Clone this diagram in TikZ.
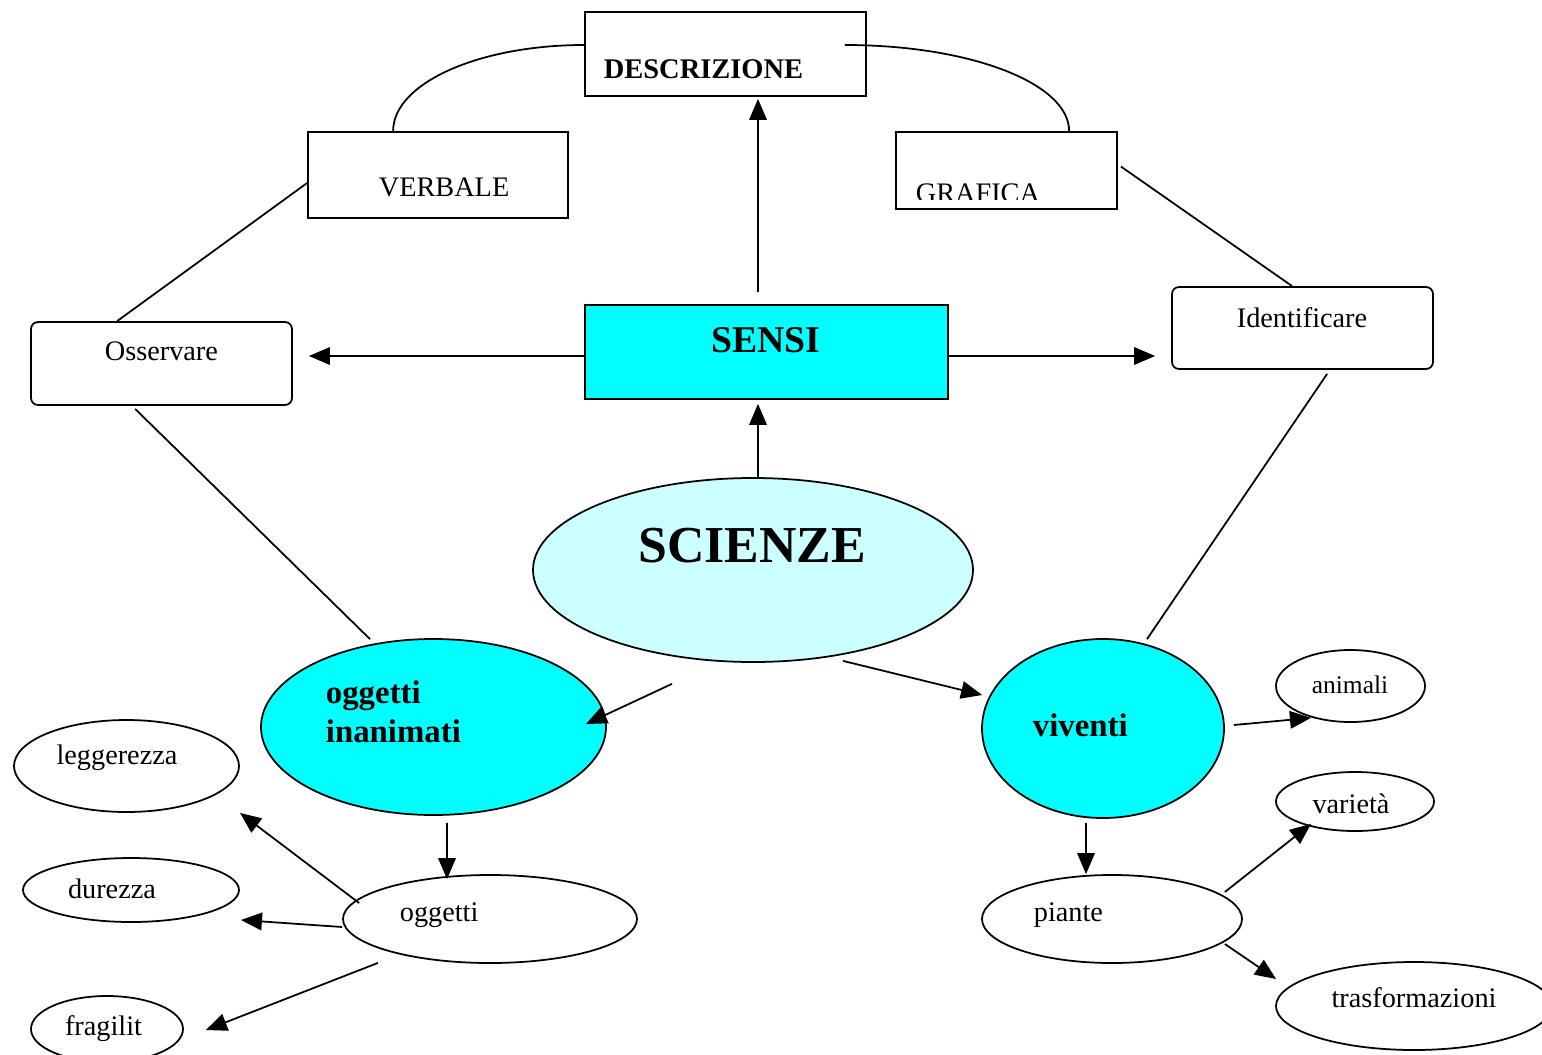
\documentclass[tikz,border=0pt]{standalone}
\usepackage{fontspec}
\setmainfont{Liberation Serif}
\usetikzlibrary{shapes.geometric,arrows.meta,calc}
\newcommand\pxu{0.02cm}
\definecolor{aqua}{HTML}{00FFFF}
\definecolor{paleaqua}{HTML}{CCFFFF}
\begin{document}
\begin{tikzpicture}[x=0.02cm,y=-0.02cm,
  line width=1pt,
  box/.style={draw, rectangle, inner sep=0pt, minimum width=#1},
  rbox/.style={draw, rectangle, rounded corners=4pt, inner sep=0pt},
  oval/.style={draw, ellipse, inner sep=0pt},
  txt/.style={inner sep=0pt, anchor=base west, font=\fontsize{16.1pt}{19pt}\selectfont},
  ctxt/.style={txt, anchor=base},
  btxt/.style={inner sep=0pt, anchor=base west, font=\fontsize{18.7pt}{22pt}\selectfont\bfseries},
  arr/.style={-{Triangle[length=12pt,width=10pt]}},
  link/.style={-}
]
\clip (0,0) rectangle (1542,1055);

% ---------- boxes ----------
\node[box=281*\pxu, minimum height=84*\pxu] (descr) at (725.5,54) {};
\node[txt, font=\fontsize{16.2pt}{19pt}\selectfont\bfseries] (descr-t) at (603,78) {DESCRIZIONE};

\node[box=260*\pxu, minimum height=86*\pxu] (verbale) at (438,175) {};
\node[txt] (verbale-t) at (378,196) {VERBALE};

\node[box=221*\pxu, minimum height=77*\pxu] (grafica) at (1006.5,170.5) {};
\begin{scope}
  \clip (896,132) rectangle (1117,199);
  \node[txt] (grafica-t) at (915,202) {GRAFICA};
\end{scope}

\node[rbox, minimum width=261*\pxu, minimum height=83*\pxu] (osservare) at (161.5,363.5) {};
\node[txt] (osservare-t) at (104,360) {Osservare};

\node[box=363*\pxu, minimum height=94*\pxu, fill=aqua] (sensi) at (766.5,352) {};
\node[inner sep=0pt, anchor=base, font=\fontsize{21.5pt}{25pt}\selectfont\bfseries] (sensi-t) at (766,352) {SENSI};

\node[rbox, minimum width=261*\pxu, minimum height=82*\pxu] (identificare) at (1302.5,328) {};
\node[ctxt] (identificare-t) at (1302,327) {Identificare};

% ---------- ellipses ----------
\node[oval, fill=paleaqua, minimum width=440*\pxu, minimum height=184*\pxu] (scienze) at (753,570) {};
\node[inner sep=0pt, anchor=base, font=\fontsize{29.5pt}{34pt}\selectfont\bfseries] (scienze-t) at (752,562) {SCIENZE};

\node[oval, fill=aqua, minimum width=345*\pxu, minimum height=176*\pxu] (inanimati) at (433.5,727) {};
\node[btxt] (inanimati-t1) at (325,703) {oggetti};
\node[btxt] (inanimati-t2) at (325,742) {inanimati};

\node[oval, fill=aqua, minimum width=242*\pxu, minimum height=179*\pxu] (viventi) at (1103,728.5) {};
\node[btxt] (viventi-t) at (1032,736) {viventi};

\node[oval, minimum width=149*\pxu, minimum height=72*\pxu] (animali) at (1350.5,686) {};
\node[ctxt, font=\fontsize{14.5pt}{17pt}\selectfont] (animali-t) at (1350,693) {animali};

\node[oval, minimum width=158*\pxu, minimum height=59*\pxu] (varieta) at (1355,801.5) {};
\node[ctxt] (varieta-t) at (1351,813) {varietà};

\node[oval, minimum width=260*\pxu, minimum height=88*\pxu] (piante) at (1112,919) {};
\node[txt] (piante-t) at (1033,921) {piante};

\node[oval, minimum width=276*\pxu, minimum height=88*\pxu] (trasf) at (1414,1006) {};
\node[ctxt] (trasf-t) at (1414,1007) {trasformazioni};

\node[oval, minimum width=294*\pxu, minimum height=88*\pxu] (oggetti) at (490,919) {};
\node[txt] (oggetti-t) at (399,921) {oggetti};

\node[oval, minimum width=225*\pxu, minimum height=92*\pxu] (leggerezza) at (126.5,766) {};
\node[ctxt] (leggerezza-t) at (117,764) {leggerezza};

\node[oval, minimum width=216*\pxu, minimum height=64*\pxu] (durezza) at (131,890) {};
\node[ctxt] (durezza-t) at (112,898) {durezza};

\node[oval, minimum width=152*\pxu, minimum height=66*\pxu] (fragilit) at (107,1029) {};
\node[ctxt] (fragilit-t) at (103.5,1035) {fragilit};

% ---------- arcs from DESCRIZIONE to VERBALE / GRAFICA ----------
\coordinate (arcL) at ($(verbale.north west)+(86,0)$);
\coordinate (arcLtop) at ($(descr.west)+(0,-9)$);
\draw (arcL) .. controls ($(arcL)+(0,-48)$) and ($(arcLtop)+(-105,0)$) .. (arcLtop);
\coordinate (arcR) at ($(grafica.north west)+(174,0)$);
\coordinate (arcRtop) at ($(descr.east)+(-22,-9)$);
\draw (arcRtop) .. controls ($(arcRtop)+(125,0)$) and ($(arcR)+(0,-48)$) .. (arcR);

% ---------- plain links ----------
\draw[link] ($(verbale.west)+(0,8)$) -- ($(osservare.north west)+(87,0)$);
\draw[link] ($(grafica.east)+(3,-4)$) -- ($(identificare.north west)+(121,0)$);
\draw[link] ($(osservare.south west)+(105,3)$) -- ($(inanimati.north)+(-63.5,1)$);
\draw[link] ($(identificare.south west)+(156,4)$) -- ($(viventi.north)+(44,1)$);

% ---------- arrows ----------
\draw[arr] ($(sensi.north)+(-8.5,-12)$) -- ($(descr.south)+(32.5,2)$);
\draw[arr] (sensi.west |- 0,356) -- ($(osservare.east)+(16,-7.5)$);
\draw[arr] (sensi.east |- 0,356) -- ($(identificare.west)+(-16,28)$);
\draw[arr] (scienze.north -| 758,0) -- ($(sensi.south)+(-8.5,4)$);
\draw[arr] ($(scienze.south)+(-81,21)$) -- ($(inanimati.east)+(-21,-3)$);
\draw[arr] ($(scienze.south)+(90,-2)$) -- ($(viventi.west)+(1,-33.5)$);
\draw[arr] ($(viventi.east)+(9,-3.5)$) -- ($(animali.south)+(-39.5,-5)$);
\draw[arr] ($(viventi.south)+(-17,4)$) -- ($(piante.north)+(-26,0)$);
\draw[arr] ($(piante.east)+(-18,-27)$) -- ($(varieta.south)+(-44,-8)$);
\draw[arr] ($(piante.east)+(-18,25)$) -- ($(trasf.west)+(1,-27)$);
\draw[arr] ($(inanimati.south)+(13.5,7)$) -- ($(oggetti.north)+(-43,5)$);
\draw[arr] ($(oggetti.west)+(17,-16)$) -- ($(leggerezza.south)+(113.5,0)$);
\draw[arr] ($(oggetti.west)+(0,8)$) -- ($(durezza.east)+(1,30)$);
\draw[arr] ($(oggetti.south)+(-112,-1)$) -- ($(fragilit.east)+(22,1)$);
\end{tikzpicture}
\end{document}
